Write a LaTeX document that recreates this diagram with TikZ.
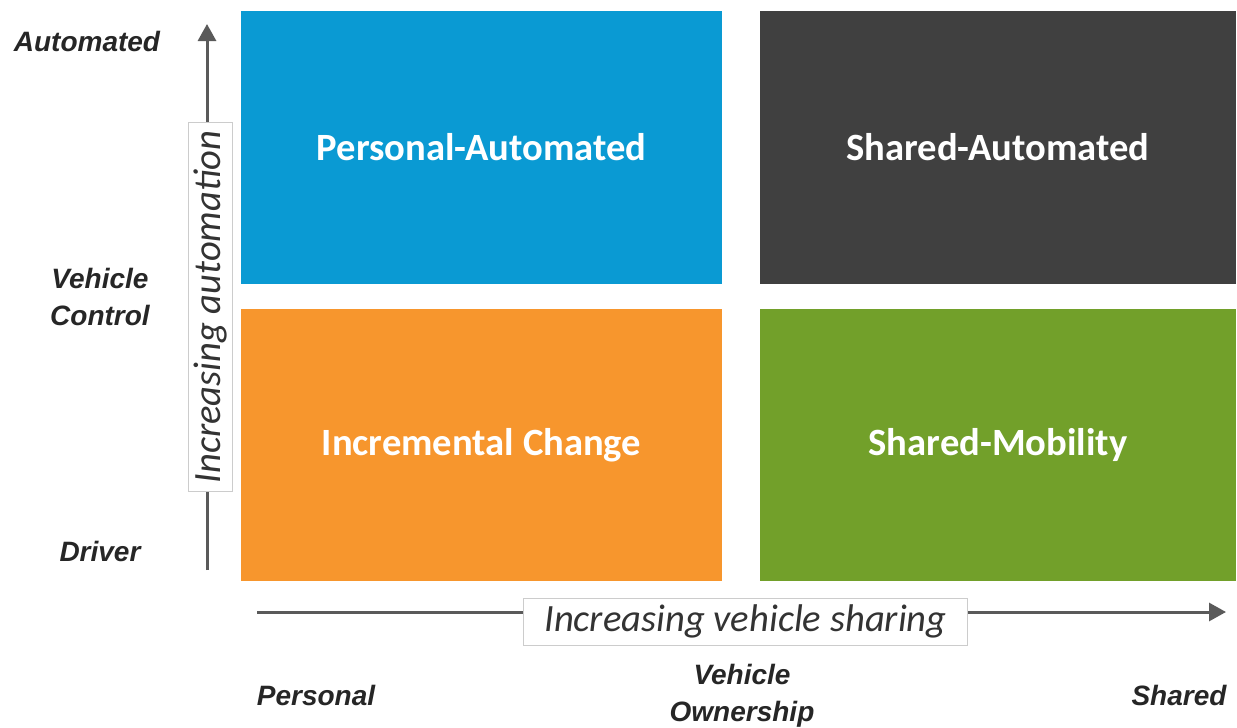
\documentclass[tikz,border=0pt]{standalone}
\usepackage{fontspec}
\setmainfont{Carlito}
\newfontfamily\arialfont{Liberation Sans}
\usepackage{xcolor}
\usetikzlibrary{positioning, arrows.meta}

\definecolor{quadblue}{HTML}{0A9AD3}
\definecolor{quadgrey}{HTML}{404040}
\definecolor{quadorange}{HTML}{F7962D}
\definecolor{quadgreen}{HTML}{72A02A}
\definecolor{axisgrey}{HTML}{5A5A5A}

\tikzset{
  quadtext/.style={text=white, font=\bfseries\fontsize{19.3}{23}\selectfont},
  axistip/.style={-{Triangle[length=8.5pt, width=9pt]}, line width=1.5pt, axisgrey},
  axislabel/.style={draw=black!20, fill=white, line width=0.4pt, font=\itshape\fontsize{19.3}{22}\selectfont, text=black!80, inner xsep=4pt, inner ysep=2pt},
  endlabel/.style={font=\arialfont\bfseries\itshape\fontsize{14}{18.5}\selectfont, text=black!85, align=center}
}

\begin{document}
\begin{tikzpicture}[x=0.5pt, y=-0.5pt]
        \useasboundingbox (0,0) rectangle (1237,728);

        % quadrants
        \foreach \nm/\xa/\ya/\xb/\yb/\col/\txt in {
            pa/241/11/722/284/quadblue/Personal-Automated,
            sa/760/11/1236/284/quadgrey/Shared-Automated,
            ic/241/309/722/581/quadorange/Incremental Change,
            sm/760/309/1236/581/quadgreen/Shared-Mobility} {
          \fill[\col] (\xa,\ya) rectangle (\xb,\yb);
          \node[quadtext] (\nm) at ({(\xa+\xb)/2},{(\ya+\yb)/2}) {\txt};
        }

        % vertical axis
        \coordinate (vbot) at (207,570);
        \coordinate (vtop) at (207,24);
        \draw[axistip] (vbot) -- (vtop);
        \node[axislabel, rotate=90, minimum width=180pt, minimum height=22pt] (vlab) at (210,307) {Increasing automation};

        % horizontal axis
        \coordinate (hleft) at (257,612);
        \coordinate (hright) at (1226,612);
        \draw[axistip] (hleft) -- (hright);
        \node[axislabel, minimum width=222pt, minimum height=23.5pt] (hlab) at (745.5,621.5) {Increasing vehicle sharing};

        % axis end labels
        \node[endlabel] (auto) at (87,41) {Automated};
        \node[endlabel] (vctrl) at (100,297) {Vehicle\\Control};
        \node[endlabel] (drv) at (100,551) {Driver};
        \node[endlabel] (pers) at (316,695) {Personal};
        \node[endlabel] (vown) at (742,696) {Vehicle\\Ownership};
        \node[endlabel] (shrd) at (1179,695) {Shared};
      \end{tikzpicture}
\end{document}
